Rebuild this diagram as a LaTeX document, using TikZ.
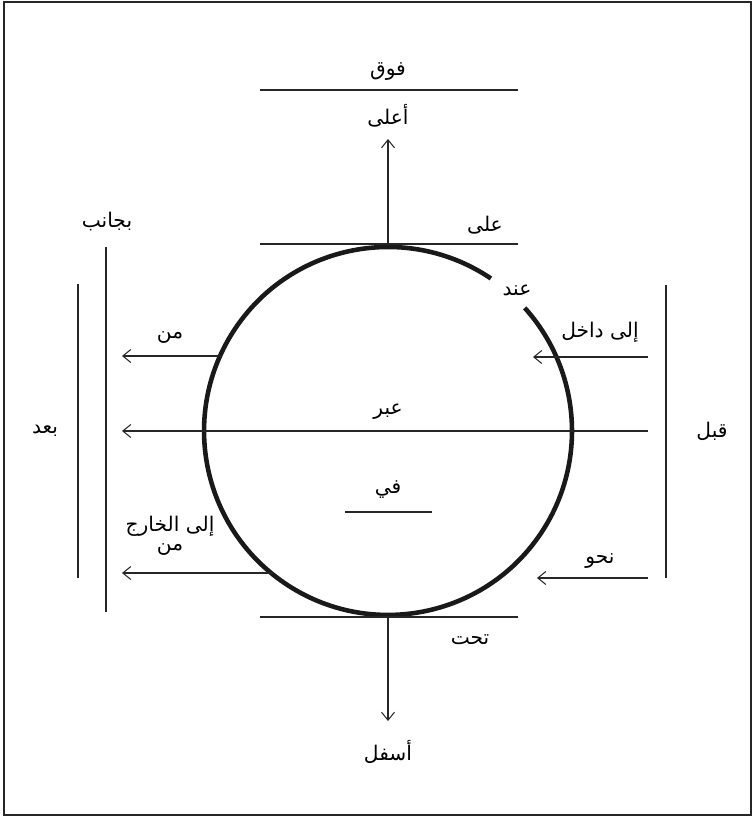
\documentclass[tikz,border=0pt]{standalone}
\usepackage{fontspec}
\newfontfamily\arabicfont[Script=Arabic]{DejaVu Sans}
\TeXXeTstate=1
\usetikzlibrary{arrows.meta,calc}
\newcommand{\artext}[1]{\arabicfont\beginR #1\endR}

\begin{document}
\begin{tikzpicture}[x=0.02cm, y=-0.02cm,
    lbl/.style={font=\fontsize{11.5}{13}\selectfont, inner sep=0pt},
    thinline/.style={line width=0.6pt, black!85},
    arr/.style={thinline, -{Straight Barb[length=1.6mm,width=2.6mm]}},
    ring/.style={line width=2.6pt, black!90}]
    % Frame
    \useasboundingbox (0,0) rectangle (754,818);
    \draw[line width=1.2pt, black!85] (4,2) rectangle (751,815);

    % Circle with a gap at the upper right
    \coordinate (c) at (388,431);
    \draw[ring] ($(c)+(-56:184)$) arc[start angle=56, end angle=402, radius=3.68cm];
    \node[lbl] (at) at (517,290) {\artext{عند}};

    % Top: on, above, over
    \coordinate (toptl) at (260,244);
    \coordinate (toptr) at (518,244);
    \coordinate (top) at (388,244);
    \coordinate (upend) at (388,139);
    \coordinate (overl) at (260,90);
    \coordinate (overr) at (518,90);
    \draw[thinline] (toptl) -- (toptr);
    \draw[thinline] (overl) -- (overr);
    \draw[arr] (top) -- (upend);
    \node[lbl] (on) at (485,225) {\artext{على}};
    \node[lbl] (above) at (388,116) {\artext{أعلى}};
    \node[lbl] (over) at (388,72) {\artext{فوق}};

    % Bottom: under, below
    \coordinate (botl) at (260,617);
    \coordinate (botr) at (518,617);
    \coordinate (bot) at (388,617);
    \coordinate (downend) at (388,721);
    \draw[thinline] (botl) -- (botr);
    \draw[arr] (bot) -- (downend);
    \node[lbl] (under) at (470,640) {\artext{تحت}};
    \node[lbl] (below) at (388,752) {\artext{أسفل}};

    % Inside
    \node[lbl] (in) at (388,490) {\artext{في}};
    \coordinate (inl) at (345,512);
    \coordinate (inr) at (432,512);
    \draw[thinline] (inl) -- (inr);

    % Left side: beside, after
    \coordinate (besidet) at (106,247);
    \coordinate (besideb) at (106,612);
    \coordinate (aftert) at (78,284);
    \coordinate (afterb) at (78,578);
    \draw[thinline] (besidet) -- (besideb);
    \draw[thinline] (aftert) -- (afterb);
    \node[lbl] (beside) at (107,222) {\artext{بجانب}};
    \node[lbl] (after) at (45,431) {\artext{بعد}};

    % Right side: before
    \coordinate (beforet) at (666,285);
    \coordinate (beforeb) at (666,578);
    \draw[thinline] (beforet) -- (beforeb);
    \node[lbl] (before) at (712,431) {\artext{قبل}};

    % Horizontal arrows
    \coordinate (froms) at (221,356);
    \coordinate (frome) at (122,356);
    \draw[arr] (froms) -- (frome);
    \node[lbl] (from) at (170,338) {\artext{من}};

    \coordinate (throughs) at (648,431);
    \coordinate (throughe) at (122,431);
    \draw[arr] (throughs) -- (throughe);
    \node[lbl] (through) at (388,412) {\artext{عبر}};

    \coordinate (outs) at (273,573);
    \coordinate (oute) at (122,573);
    \draw[arr] (outs) -- (oute);
    \node[lbl] (outof) at (170,526) {\artext{إلى الخارج}};
    \node[lbl] (outfrom) at (170,550) {\artext{من}};

    \coordinate (intos) at (648,357);
    \coordinate (intoe) at (533,357);
    \draw[arr] (intos) -- (intoe);
    \node[lbl] (into) at (600,332) {\artext{إلى داخل}};

    \coordinate (towards) at (648,578);
    \coordinate (towarde) at (537,578);
    \draw[arr] (towards) -- (towarde);
    \node[lbl] (toward) at (600,561) {\artext{نحو}};
\end{tikzpicture}
\end{document}
